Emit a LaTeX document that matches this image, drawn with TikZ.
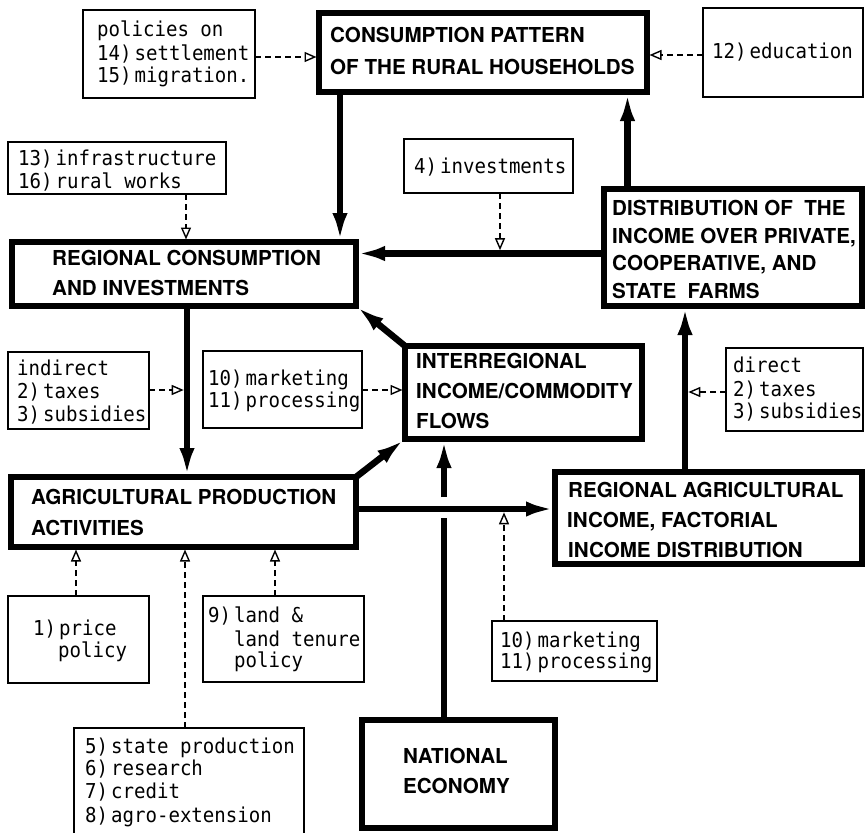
\documentclass[tikz,border=0pt]{standalone}
\usepackage{fontspec}
\setmainfont{TeX Gyre Heros}
\newfontfamily\monofam[FakeStretch=0.93]{DejaVu Sans Mono}
\usetikzlibrary{arrows.meta}
\newcommand\hdfnt{\fontsize{20.6}{30}\selectfont\bfseries}
\newcommand\mnfnt{\fontsize{20.5}{23}\selectfont\monofam}
\newcommand\sk{\kern3pt}
\begin{document}
\begin{tikzpicture}[x=1pt,y=-1pt,
  tbox/.style={draw, line width=6.5pt, inner sep=0pt, outer sep=0pt, anchor=north west},
  fbox/.style={draw, line width=1.4pt, inner sep=0pt, outer sep=0pt, anchor=north west},
  hd/.style={font=\hdfnt, anchor=base west, inner sep=0pt},
  mn/.style={font=\mnfnt, anchor=base west, inner sep=0pt},
  thickline/.style={line width=6.5pt},
  thickarrow/.style={line width=6.5pt, -{Latex[length=29pt,width=15pt]}},
  dasharrow/.style={line width=1.4pt, dash pattern=on 6pt off 4pt,
     -{Triangle[open,length=12pt,width=10pt,line width=1.4pt]}, shorten >=2.5pt}
]
\useasboundingbox (0,0) rectangle (866,832);
\fill[white] (0,0) rectangle (866,832);
\clip (0,0) rectangle (866,832);

% ---------- thick boxes ----------
\node[tbox, minimum width=328pt, minimum height=79pt] (cons) at (319,13) {};
\node[tbox, minimum width=344pt, minimum height=64pt] (reg) at (12,242) {};
\node[tbox, minimum width=258pt, minimum height=117pt] (dist) at (604,189) {};
\node[tbox, minimum width=237pt, minimum height=93pt] (inter) at (405,346) {};
\node[tbox, minimum width=345pt, minimum height=70pt] (agri) at (11,477) {};
\node[tbox, minimum width=307pt, minimum height=92pt] (regagri) at (555,472) {};
\node[tbox, minimum width=193pt, minimum height=108pt] (nat) at (362,720) {};

% ---------- thin boxes ----------
\node[fbox, minimum width=172pt, minimum height=88pt] (pol) at (83,10) {};
\node[fbox, minimum width=160pt, minimum height=89pt] (edu) at (703,8) {};
\node[fbox, minimum width=218pt, minimum height=52pt] (infra) at (8,142) {};
\node[fbox, minimum width=169pt, minimum height=54pt] (inv) at (404,139) {};
\node[fbox, minimum width=141pt, minimum height=77pt] (ind) at (8,352) {};
\node[fbox, minimum width=159pt, minimum height=77pt] (mka) at (203,351) {};
\node[fbox, minimum width=137pt, minimum height=83pt] (dir) at (726,348) {};
\node[fbox, minimum width=141pt, minimum height=87pt] (price) at (8,596) {};
\node[fbox, minimum width=161pt, minimum height=86pt] (land) at (203,596) {};
\node[fbox, minimum width=230pt, minimum height=115pt] (state) at (74,728) {};
\node[fbox, minimum width=165pt, minimum height=60pt] (mkb) at (492,621) {};

% ---------- headings ----------
\node[hd] (cons1) at (330,43) {CONSUMPTION PATTERN};
\node[hd] (cons2) at (330,75) {OF THE RURAL HOUSEHOLDS};
\node[hd] (reg1) at (52,265) {REGIONAL CONSUMPTION};
\node[hd] (reg2) at (52,295) {AND INVESTMENTS};
\node[hd] (dist1) at (612,215) {DISTRIBUTION OF\ \ THE};
\node[hd] (dist2) at (612,243) {INCOME OVER PRIVATE,};
\node[hd] (dist3) at (612,270) {COOPERATIVE, AND};
\node[hd] (dist4) at (612,298) {STATE\ \ FARMS};
\node[hd] (inter1) at (416,368) {INTERREGIONAL};
\node[hd] (inter2) at (416,398) {INCOME/COMMODITY};
\node[hd] (inter3) at (416,428) {FLOWS};
\node[hd] (agri1) at (31,504) {AGRICULTURAL PRODUCTION};
\node[hd] (agri2) at (31,535) {ACTIVITIES};
\node[hd] (regagri1) at (568,497) {REGIONAL AGRICULTURAL};
\node[hd] (regagri2) at (567,527) {INCOME, FACTORIAL};
\node[hd] (regagri3) at (568,557) {INCOME DISTRIBUTION};
\node[hd] (nat1) at (403,763) {NATIONAL};
\node[hd] (nat2) at (403,793) {ECONOMY};

% ---------- policy texts ----------
\node[mn] (pol1) at (97,37) {policies on};
\node[mn] (pol2) at (97,61) {14)\sk settlement};
\node[mn] (pol3) at (97,83) {15)\sk migration.};
\node[mn] (edu1) at (712,59) {12)\sk education};
\node[mn] (infra1) at (18,165) {13)\sk infrastructure};
\node[mn] (infra2) at (18,188) {16)\sk rural works};
\node[mn] (inv1) at (414,173) {4)\sk investments};
\node[mn] (ind1) at (17,375) {indirect};
\node[mn] (ind2) at (17,398) {2)\sk taxes};
\node[mn] (ind3) at (17,421) {3)\sk subsidies};
\node[mn] (mka1) at (208,385) {10)\sk marketing};
\node[mn] (mka2) at (208,407) {11)\sk processing};
\node[mn] (dir1) at (733,372) {direct};
\node[mn] (dir2) at (733,396) {2)\sk taxes};
\node[mn] (dir3) at (733,418) {3)\sk subsidies};
\node[mn] (price1) at (33,635) {1)\sk price};
\node[mn] (price2) at (58,657) {policy};
\node[mn] (land1) at (208,622) {9)\sk land \&};
\node[mn] (land2) at (234,646) {land tenure};
\node[mn] (land3) at (234,667) {policy};
\node[mn] (state1) at (85,753) {5)\sk state production};
\node[mn] (state2) at (85,775) {6)\sk research};
\node[mn] (state3) at (85,798) {7)\sk credit};
\node[mn] (state4) at (85,822) {8)\sk agro-extension};
\node[mn] (mkb1) at (500,647) {10)\sk marketing};
\node[mn] (mkb2) at (500,668) {11)\sk processing};

% ---------- attachment coordinates ----------
\coordinate (cA) at (340,92);     % cons -> reg
\coordinate (cB) at (627.5,189);  % dist -> cons
\coordinate (cC) at (604,253.5);  % dist -> reg
\coordinate (cD) at (187,306);    % reg -> agri
\coordinate (cE) at (356,509);    % agri -> regagri
\coordinate (cF) at (685,472);    % regagri -> dist
\coordinate (cG) at (444,720);    % nat -> inter
\coordinate (gapL) at (444,518);
\coordinate (gapU) at (444,497);

% ---------- thick connectors ----------
\draw[thickarrow] (cA) -- (cA |- reg.north);
\draw[thickarrow] (cB) -- (cB |- cons.south);
\draw[thickarrow] (cC) -- (cC -| reg.east);
\draw[thickarrow] (cD) -- (cD |- agri.north);
\draw[thickarrow] (inter.north west) -- (reg.south east);
\draw[thickarrow] (agri.north east) -- (inter.south west);
\draw[thickarrow] (cE) -- (cE -| regagri.west);
\draw[thickarrow] (cF) -- (cF |- dist.south);
\draw[thickline] (cG) -- (gapL);
\draw[thickarrow] (gapU) -- (gapU |- inter.south);

% ---------- dashed connectors ----------
\coordinate (d1) at (255,57);
\draw[dasharrow] (d1) -- (d1 -| cons.west);
\coordinate (d2) at (703,55);
\draw[dasharrow] (d2) -- (d2 -| cons.east);
\coordinate (d3) at (186,194);
\draw[dasharrow] (d3) -- (d3 |- reg.north);
\coordinate (d4) at (500,193);
\coordinate (d4e) at (500,253.5);
\draw[dasharrow, shorten >=3.3pt] (d4) -- (d4e);
\coordinate (d5) at (149,390);
\coordinate (d5e) at (187,390);
\draw[dasharrow, shorten >=3.3pt] (d5) -- (d5e);
\coordinate (d6) at (362,390);
\draw[dasharrow] (d6) -- (d6 -| inter.west);
\coordinate (d7) at (726,392);
\coordinate (d7e) at (685,392);
\draw[dasharrow, shorten >=3.3pt] (d7) -- (d7e);
\coordinate (d8) at (76,596);
\draw[dasharrow] (d8) -- (d8 |- agri.south);
\coordinate (d9) at (185,728);
\draw[dasharrow] (d9) -- (d9 |- agri.south);
\coordinate (d10) at (275,596);
\draw[dasharrow] (d10) -- (d10 |- agri.south);
\coordinate (d11) at (504,621);
\coordinate (d11e) at (504,509);
\draw[dasharrow, shorten >=3.3pt] (d11) -- (d11e);
\end{tikzpicture}
\end{document}
